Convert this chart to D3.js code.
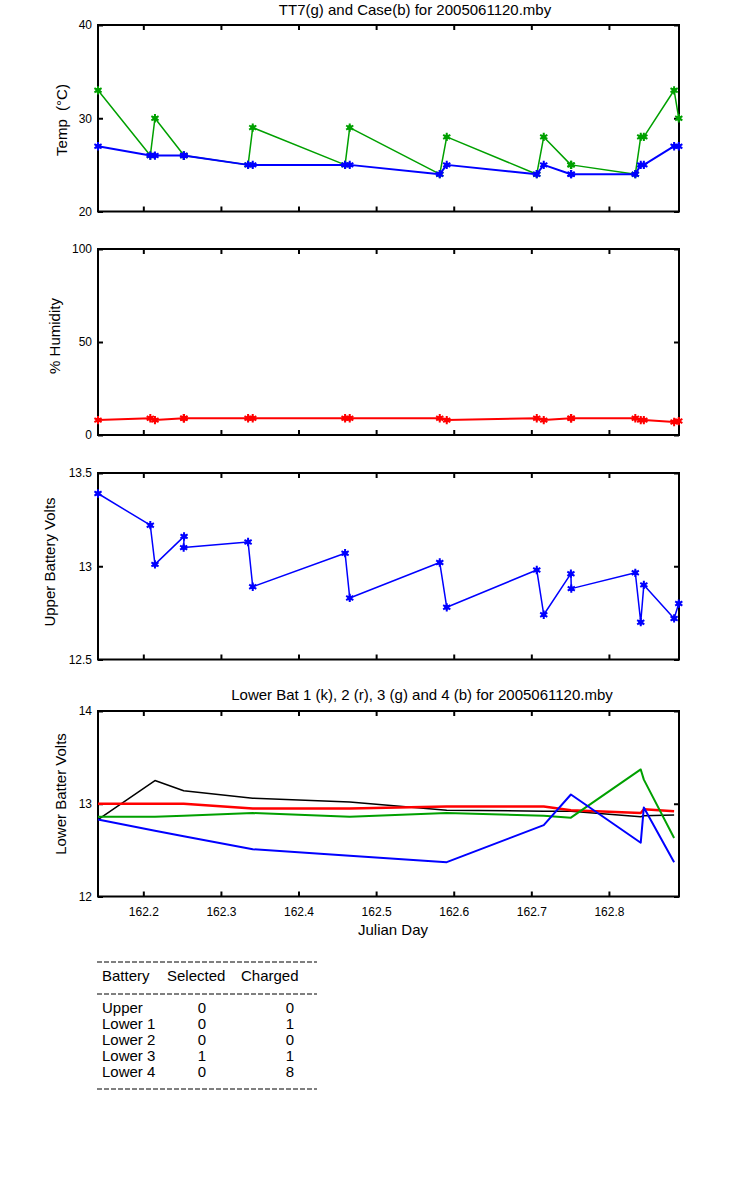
<!DOCTYPE html>
<meta charset="utf-8">
<style>
body { margin: 0; background: #ffffff; }
text { font-family: Arial, "Liberation Sans", sans-serif; fill: #000000; white-space: pre; }
.tick text { font-size: 12px; }
.tick line { stroke: #000000; stroke-width: 2px; }
.domain { display: none; }
.frame { fill: none; stroke: #000000; stroke-width: 2px; }
.lbl { font-size: 15px; }
</style>
<script src="https://d3js.org/d3.v7.min.js"></script>
<body>
<div id="chart"></div>
<script>

// julian day of each sample
var days = [162.1416, 162.209, 162.215, 162.2525, 162.252, 162.335, 162.341, 162.460, 162.466,
            162.582, 162.591, 162.707, 162.716, 162.751, 162.7515, 162.834, 162.841, 162.845,
            162.884, 162.890];
var tt7   = [33, 26, 30, 26, 26, 25, 29, 25, 29, 24, 28, 24, 28, 25, 25, 24, 28, 28, 33, 30];
var caseT = [27, 26, 26, 26, 26, 25, 25, 25, 25, 24, 25, 24, 25, 24, 24, 24, 25, 25, 27, 27];
var humidity = [8, 9, 8, 9, 9, 9, 9, 9, 9, 9, 8, 9, 8, 9, 9, 9, 8, 8, 7, 7.5];
var upperVolts = [13.39, 13.22, 13.01, 13.16, 13.10, 13.13, 12.89, 13.07, 12.83, 13.02, 12.78,
                  12.98, 12.74, 12.96, 12.88, 12.965, 12.70, 12.90, 12.72, 12.80];

// lower batteries
var lowerDays = [162.1416, 162.215, 162.252, 162.341, 162.466, 162.591, 162.716, 162.751, 162.841, 162.845, 162.884];
var lower1 = [12.83, 13.25, 13.14, 13.06, 13.02, 12.93, 12.92, 12.92, 12.86, 12.87, 12.88];
var lower2 = [13.00, 13.00, 13.00, 12.95, 12.95, 12.97, 12.97, 12.93, 12.90, 12.94, 12.92];
var lower3 = [12.86, 12.86, 12.87, 12.90, 12.86, 12.90, 12.87, 12.85, 13.37, 13.26, 12.63];
var lower4 = [12.83, 12.71, 12.65, 12.51, 12.44, 12.37, 12.77, 13.10, 12.58, 12.96, 12.37];

var xTicks = [162.2, 162.3, 162.4, 162.5, 162.6, 162.7, 162.8];

var tableHead = ["Battery", "Selected", "Charged"];
var batNames = ["Upper", "Lower 1", "Lower 2", "Lower 3", "Lower 4"];
var selected = [0, 0, 0, 1, 0];
var charged = [0, 1, 0, 1, 8];

var svg = d3.select("#chart").append("svg")
    .attr("width", 750)
    .attr("height", 1200);

svg.append("rect").attr("width", 750).attr("height", 1200).attr("fill", "white");

var x = d3.scaleLinear().domain([162.1416, 162.8903]).range([98, 679]);

function panel(top, bottom, domain, yticks, showX, ylabel, ylabelY) {
  var y = d3.scaleLinear().domain(domain).range([bottom, top]);
  var g = svg.append("g");

  g.append("g").attr("transform", "translate(0," + bottom + ")")
    .call(d3.axisBottom(x).tickValues(xTicks).tickSize(-5).tickSizeOuter(0).tickPadding(11)
      .tickFormat(showX ? d3.format(".1f") : ""));
  g.append("g").attr("transform", "translate(0," + top + ")")
    .call(d3.axisTop(x).tickValues(xTicks).tickSize(-5).tickSizeOuter(0).tickFormat(""));
  g.append("g").attr("transform", "translate(98,0)")
    .call(d3.axisLeft(y).tickValues(yticks).tickSize(-5).tickSizeOuter(0).tickPadding(6)
      .tickFormat(d3.format("")));
  g.append("g").attr("transform", "translate(679,0)")
    .call(d3.axisRight(y).tickValues(yticks).tickSize(-5).tickSizeOuter(0).tickFormat(""));

  g.append("rect").attr("class", "frame")
    .attr("x", 98).attr("y", top).attr("width", 679 - 98).attr("height", bottom - top);

  g.append("text").attr("class", "lbl")
    .attr("transform", "translate(" + (ylabel.x) + "," + ylabelY + ") rotate(-90)")
    .attr("text-anchor", "middle")
    .attr("dy", "0.35em")
    .text(ylabel.text);
  return y;
}

function series(y, xs, ys, color, width, markers) {
  var pts = xs.map(function(d, i) { return [d, ys[i]]; });
  var line = d3.line().x(function(d) { return x(d[0]); }).y(function(d) { return y(d[1]); });
  svg.append("path").datum(pts)
    .attr("fill", "none").attr("stroke", color).attr("stroke-width", width)
    .attr("stroke-linejoin", "round")
    .attr("d", line);
  if (markers) {
    var sym = d3.symbol(d3.symbolAsterisk).size(48);
    var m = svg.append("g").selectAll("g").data(pts).enter().append("g")
      .attr("transform", function(d) { return "translate(" + x(d[0]) + "," + y(d[1]) + ")"; });
    m.append("path").attr("d", sym).attr("stroke", color).attr("stroke-width", 2).attr("fill", "none");
    m.append("circle").attr("r", 2.5).attr("fill", color);
  }
}

// temperature
var yT = panel(25, 211.5, [20, 40], [20, 30, 40], false, {x: 62, text: "Temp  (\u00b0C)"}, 120);
series(yT, days, tt7, "#00a000", 1.5, true);
series(yT, days, caseT, "#0000ff", 2, true);
svg.append("text").attr("class", "lbl").attr("x", 415).attr("y", 15)
  .attr("text-anchor", "middle").text("TT7(g) and Case(b) for 2005061120.mby");

// humidity
var yH = panel(249, 435, [0, 100], [0, 50, 100], false, {x: 55, text: "% Humidity"}, 336);
series(yH, days, humidity, "#ff0000", 2, true);

// upper battery
var yU = panel(473, 659.5, [12.5, 13.5], [12.5, 13, 13.5], false, {x: 50, text: "Upper Battery Volts"}, 562);
series(yU, days, upperVolts, "#0000ff", 1.5, true);

// lower batteries
var yL = panel(711, 896.5, [12, 14], [12, 13, 14], true, {x: 61, text: "Lower Batter Volts"}, 794);
series(yL, lowerDays, lower1, "#000000", 1.5, false);
series(yL, lowerDays, lower2, "#ff0000", 2.5, false);
series(yL, lowerDays, lower3, "#00a000", 2, false);
series(yL, lowerDays, lower4, "#0000ff", 2, false);
svg.append("text").attr("class", "lbl").attr("x", 422).attr("y", 700)
  .attr("text-anchor", "middle").text("Lower Bat 1 (k), 2 (r), 3 (g) and 4 (b) for 2005061120.mby");
svg.append("text").attr("class", "lbl").attr("x", 393).attr("y", 935)
  .attr("text-anchor", "middle").text("Julian Day");

// table of battery states
[962, 994, 1089].forEach(function(yy) {
  svg.append("line").attr("x1", 97).attr("x2", 317).attr("y1", yy).attr("y2", yy)
    .attr("stroke", "#000").attr("stroke-width", 1).attr("stroke-dasharray", "5,2");
});
var headX = [102, 167, 241];
tableHead.forEach(function(h, i) {
  svg.append("text").attr("class", "lbl").attr("x", headX[i]).attr("y", 981).text(h);
});
batNames.forEach(function(n, i) {
  var yy = 1013 + i * 16;
  svg.append("text").attr("class", "lbl").attr("x", 102).attr("y", yy).text(n);
  svg.append("text").attr("class", "lbl").attr("x", 202).attr("y", yy).attr("text-anchor", "middle").text(selected[i]);
  svg.append("text").attr("class", "lbl").attr("x", 290).attr("y", yy).attr("text-anchor", "middle").text(charged[i]);
});

</script>
